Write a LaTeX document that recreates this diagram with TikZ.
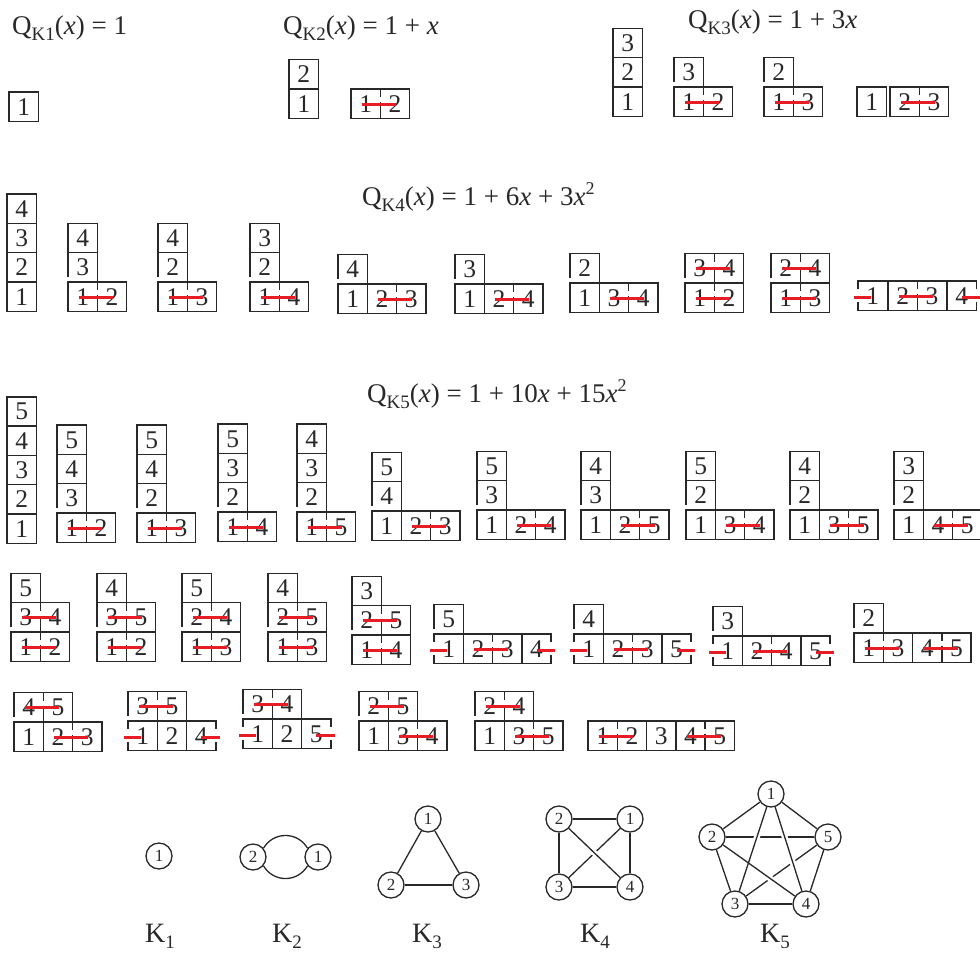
\documentclass[tikz,border=0pt]{standalone}
\usepackage{fontspec}
\setmainfont{Liberation Serif}
\definecolor{ink}{RGB}{40,40,40}
\definecolor{rd}{RGB}{232,28,36}
\newcounter{cc}
\def\csz{29.3}
\newcommand\Org[2]{\def\ox{#1}\def\oy{#2}}
\newcommand\Cell[3]{%
  \draw[cellline] ({\ox+#1*\csz},{\oy-#2*\csz}) rectangle ++(\csz,\csz);
  \stepcounter{cc}%
  \node[dig] (c\arabic{cc}) at ({\ox+(#1+0.5)*\csz},{\oy-#2*\csz+23}) {#3};}
\newcommand\Red[2]{%
  \pgfmathsetmacro\myRY{\oy-#2*\csz+15}%
  \pgfmathsetmacro\myWX{\ox+(#1+1)*\csz}%
  \fill[white] ({\myWX-1.6},{\myRY-7}) rectangle ({\myWX+1.6},{\myRY-2.2});
  \draw[redline] ({\ox+(#1+0.5)*\csz-4},\myRY) -- ({\ox+(#1+1.5)*\csz+1},\myRY);}
\newcommand\LStub[2]{%
  \pgfmathsetmacro\myRY{\oy-#2*\csz+16}%
  \pgfmathsetmacro\myWX{\ox+#1*\csz}%
  \fill[white] ({\myWX-1.6},{\myRY-8}) rectangle ({\myWX+1.6},{\myRY+5});
  \draw[redline] ({\myWX-4},\myRY) -- ({\myWX+\csz/2-2},\myRY);}
\newcommand\RStub[2]{%
  \pgfmathsetmacro\myRY{\oy-#2*\csz+16}%
  \pgfmathsetmacro\myWX{\ox+(#1+1)*\csz}%
  \fill[white] ({\myWX-1.6},{\myRY-8}) rectangle ({\myWX+1.6},{\myRY+5});
  \draw[redline] ({\myWX-\csz/2},\myRY) -- ({\myWX+4},\myRY);}
\newcommand\LGap{\fill[white] ({\ox-1.6},{\oy-5.5}) rectangle ({\ox+1.6},{\oy-0.95});}
\newcommand\sbs[1]{\raisebox{-6pt}{\fontsize{19}{19}\selectfont #1}}
\newcommand\sps[1]{\raisebox{11pt}{\fontsize{18}{18}\selectfont #1}}
\newcommand\ksub[1]{\raisebox{-6pt}{\fontsize{19}{19}\selectfont #1}}
\tikzset{
 cellline/.style={draw=ink, line width=1.5},
 dig/.style={inner sep=0pt, anchor=base, text=ink, font=\fontsize{25.5}{25.5}\selectfont},
 redline/.style={draw=rd, line width=3},
 ttl/.style={inner sep=0pt, anchor=base west, text=ink, font=\fontsize{27}{27}\selectfont},
 klab/.style={inner sep=0pt, anchor=base west, text=ink, font=\fontsize{28}{28}\selectfont},
 vtx/.style={circle, draw=ink, line width=1.3, minimum size=26pt, inner sep=0pt, fill=white, text=ink, font=\fontsize{17}{17}\selectfont},
 edge/.style={draw=ink, line width=1.3},
 gapline/.style={draw=white, line width=6, shorten >=4pt, shorten <=4pt},
}
\begin{document}
\begin{tikzpicture}[x=1pt,y=-1pt]
\useasboundingbox (0,0) rectangle (980,954);
% titles
\node[ttl] (q1) at (12,34) {Q\sbs{K1}(\textit{x}) = 1};
\node[ttl] (q2) at (283,34) {Q\sbs{K2}(\textit{x}) = 1 + \textit{x}};
\node[ttl] (q3) at (688,28) {Q\sbs{K3}(\textit{x}) = 1 + 3\textit{x}};
\node[ttl] (q4) at (362,205) {Q\sbs{K4}(\textit{x}) = 1 + 6\textit{x} + 3\textit{x}\sps{2}};
\node[ttl] (q5) at (367,402) {Q\sbs{K5}(\textit{x}) = 1 + 10\textit{x} + 15\textit{x}\sps{2}};
% K1
\Org{9}{92}\Cell{0}{0}{1}
% K2
\Org{289}{89}\Cell{0}{0}{1}\Cell{0}{1}{2}
\Org{351}{89}\Cell{0}{0}{1}\Cell{1}{0}{2}\Red{0}{0}
% K3
\Org{613}{87}\Cell{0}{0}{1}\Cell{0}{1}{2}\Cell{0}{2}{3}
\Org{674}{87}\Cell{0}{0}{1}\Cell{1}{0}{2}\Cell{0}{1}{3}\LGap\Red{0}{0}
\Org{764}{87}\Cell{0}{0}{1}\Cell{1}{0}{3}\Cell{0}{1}{2}\LGap\Red{0}{0}
\Org{857}{87}\Cell{0}{0}{1}
\Org{890}{87}\Cell{0}{0}{2}\Cell{1}{0}{3}\Red{0}{0}
% K4
\Org{7}{282}\Cell{0}{0}{1}\Cell{0}{1}{2}\Cell{0}{2}{3}\Cell{0}{3}{4}
\Org{68}{282}\Cell{0}{0}{1}\Cell{1}{0}{2}\Cell{0}{1}{3}\Cell{0}{2}{4}\LGap\Red{0}{0}
\Org{158}{282}\Cell{0}{0}{1}\Cell{1}{0}{3}\Cell{0}{1}{2}\Cell{0}{2}{4}\LGap\Red{0}{0}
\Org{250}{282}\Cell{0}{0}{1}\Cell{1}{0}{4}\Cell{0}{1}{2}\Cell{0}{2}{3}\LGap\Red{0}{0}
\Org{338}{284}\Cell{0}{0}{1}\Cell{1}{0}{2}\Cell{2}{0}{3}\Cell{0}{1}{4}\LGap\Red{1}{0}
\Org{455}{284}\Cell{0}{0}{1}\Cell{1}{0}{2}\Cell{2}{0}{4}\Cell{0}{1}{3}\LGap\Red{1}{0}
\Org{570}{283}\Cell{0}{0}{1}\Cell{1}{0}{3}\Cell{2}{0}{4}\Cell{0}{1}{2}\LGap\Red{1}{0}
\Org{685}{283}\Cell{0}{0}{1}\Cell{1}{0}{2}\Cell{0}{1}{3}\Cell{1}{1}{4}\LGap\Red{0}{0}\Red{0}{1}
\Org{771}{283}\Cell{0}{0}{1}\Cell{1}{0}{3}\Cell{0}{1}{2}\Cell{1}{1}{4}\LGap\Red{0}{0}\Red{0}{1}
\Org{858}{281}\Cell{0}{0}{1}\LStub{0}{0}
\Org{888}{281}\Cell{0}{0}{2}\Cell{1}{0}{3}\Red{0}{0}
\Org{947}{281}\Cell{0}{0}{4}\RStub{0}{0}
% K5 row 1
\Org{7}{514}\Cell{0}{0}{1}\Cell{0}{1}{2}\Cell{0}{2}{3}\Cell{0}{3}{4}\Cell{0}{4}{5}
\Org{57}{513}\Cell{0}{0}{1}\Cell{1}{0}{2}\Cell{0}{1}{3}\Cell{0}{2}{4}\Cell{0}{3}{5}\LGap\Red{0}{0}
\Org{137}{513}\Cell{0}{0}{1}\Cell{1}{0}{3}\Cell{0}{1}{2}\Cell{0}{2}{4}\Cell{0}{3}{5}\LGap\Red{0}{0}
\Org{218}{512}\Cell{0}{0}{1}\Cell{1}{0}{4}\Cell{0}{1}{2}\Cell{0}{2}{3}\Cell{0}{3}{5}\LGap\Red{0}{0}
\Org{297}{512}\Cell{0}{0}{1}\Cell{1}{0}{5}\Cell{0}{1}{2}\Cell{0}{2}{3}\Cell{0}{3}{4}\LGap\Red{0}{0}
\Org{372}{511}\Cell{0}{0}{1}\Cell{1}{0}{2}\Cell{2}{0}{3}\Cell{0}{1}{4}\Cell{0}{2}{5}\LGap\Red{1}{0}
\Org{477}{510}\Cell{0}{0}{1}\Cell{1}{0}{2}\Cell{2}{0}{4}\Cell{0}{1}{3}\Cell{0}{2}{5}\LGap\Red{1}{0}
\Org{581}{510}\Cell{0}{0}{1}\Cell{1}{0}{2}\Cell{2}{0}{5}\Cell{0}{1}{3}\Cell{0}{2}{4}\LGap\Red{1}{0}
\Org{686}{510}\Cell{0}{0}{1}\Cell{1}{0}{3}\Cell{2}{0}{4}\Cell{0}{1}{2}\Cell{0}{2}{5}\LGap\Red{1}{0}
\Org{790}{510}\Cell{0}{0}{1}\Cell{1}{0}{3}\Cell{2}{0}{5}\Cell{0}{1}{2}\Cell{0}{2}{4}\LGap\Red{1}{0}
\Org{894}{510}\Cell{0}{0}{1}\Cell{1}{0}{4}\Cell{2}{0}{5}\Cell{0}{1}{2}\Cell{0}{2}{3}\LGap\Red{1}{0}
% K5 row 2
\Org{11}{632}\Cell{0}{0}{1}\Cell{1}{0}{2}\Cell{0}{1}{3}\Cell{1}{1}{4}\Cell{0}{2}{5}\LGap\Red{0}{0}\Red{0}{1}
\Org{97}{632}\Cell{0}{0}{1}\Cell{1}{0}{2}\Cell{0}{1}{3}\Cell{1}{1}{5}\Cell{0}{2}{4}\LGap\Red{0}{0}\Red{0}{1}
\Org{182}{632}\Cell{0}{0}{1}\Cell{1}{0}{3}\Cell{0}{1}{2}\Cell{1}{1}{4}\Cell{0}{2}{5}\LGap\Red{0}{0}\Red{0}{1}
\Org{268}{632}\Cell{0}{0}{1}\Cell{1}{0}{3}\Cell{0}{1}{2}\Cell{1}{1}{5}\Cell{0}{2}{4}\LGap\Red{0}{0}\Red{0}{1}
\Org{352}{635}\Cell{0}{0}{1}\Cell{1}{0}{4}\Cell{0}{1}{2}\Cell{1}{1}{5}\Cell{0}{2}{3}\LGap\Red{0}{0}\Red{0}{1}
\Org{434}{634}\Cell{0}{0}{1}\Cell{1}{0}{2}\Cell{2}{0}{3}\Cell{3}{0}{4}\Cell{0}{1}{5}\LGap\LStub{0}{0}\Red{1}{0}\RStub{3}{0}
\Org{574}{634}\Cell{0}{0}{1}\Cell{1}{0}{2}\Cell{2}{0}{3}\Cell{3}{0}{5}\Cell{0}{1}{4}\LGap\LStub{0}{0}\Red{1}{0}\RStub{3}{0}
\Org{713}{636}\Cell{0}{0}{1}\Cell{1}{0}{2}\Cell{2}{0}{4}\Cell{3}{0}{5}\Cell{0}{1}{3}\LGap\LStub{0}{0}\Red{1}{0}\RStub{3}{0}
\Org{854}{633}\Cell{0}{0}{1}\Cell{1}{0}{3}\Cell{2}{0}{4}\Cell{3}{0}{5}\Cell{0}{1}{2}\LGap\Red{0}{0}\Red{2}{0}
% K5 row 3
\Org{14}{722}\Cell{0}{0}{1}\Cell{1}{0}{2}\Cell{2}{0}{3}\Cell{0}{1}{4}\Cell{1}{1}{5}\LGap\Red{0}{1}\Red{1}{0}
\Org{128}{721}\Cell{0}{0}{1}\Cell{1}{0}{2}\Cell{2}{0}{4}\Cell{0}{1}{3}\Cell{1}{1}{5}\LGap\Red{0}{1}\LStub{0}{0}\RStub{2}{0}
\Org{243}{719}\Cell{0}{0}{1}\Cell{1}{0}{2}\Cell{2}{0}{5}\Cell{0}{1}{3}\Cell{1}{1}{4}\LGap\Red{0}{1}\LStub{0}{0}\RStub{2}{0}
\Org{359}{721}\Cell{0}{0}{1}\Cell{1}{0}{3}\Cell{2}{0}{4}\Cell{0}{1}{2}\Cell{1}{1}{5}\LGap\Red{0}{1}\Red{1}{0}
\Org{475}{721}\Cell{0}{0}{1}\Cell{1}{0}{3}\Cell{2}{0}{5}\Cell{0}{1}{2}\Cell{1}{1}{4}\LGap\Red{0}{1}\Red{1}{0}
\Org{588}{721}\Cell{0}{0}{1}\Cell{1}{0}{2}\Cell{2}{0}{3}\Cell{3}{0}{4}\Cell{4}{0}{5}\Red{0}{0}\Red{3}{0}
% graphs
\node[vtx] (a1) at (159,856) {1};
\node[vtx] (b2) at (253,857) {2};
\node[vtx] (b1) at (318,857) {1};
\draw[edge] (b2.40) .. controls +(10,-17) and +(-10,-17) .. (b1.140);
\draw[edge] (b2.-40) .. controls +(10,17) and +(-10,17) .. (b1.-140);
\node[vtx] (c1) at (428,819) {1};
\node[vtx] (c2) at (391,885) {2};
\node[vtx] (c3) at (466,885) {3};
\draw[edge] (c1) -- (c2);
\draw[edge] (c1) -- (c3);
\draw[edge] (c2) -- (c3);
\node[vtx] (d2) at (559,819) {2};
\node[vtx] (d1) at (630,819) {1};
\node[vtx] (d3) at (559,887) {3};
\node[vtx] (d4) at (630,887) {4};
\draw[edge] (d2) -- (d1);
\draw[edge] (d2) -- (d3);
\draw[edge] (d1) -- (d4);
\draw[edge] (d3) -- (d4);
\draw[edge] (d1) -- (d3);
\draw[gapline] (d2) -- (d4);
\draw[edge] (d2) -- (d4);
\node[vtx] (e1) at (771,794) {1};
\node[vtx] (e2) at (712,837) {2};
\node[vtx] (e5) at (828,837) {5};
\node[vtx] (e3) at (735,904) {3};
\node[vtx] (e4) at (806,904) {4};
\draw[edge] (e1) -- (e2);
\draw[edge] (e1) -- (e5);
\draw[edge] (e2) -- (e3);
\draw[edge] (e3) -- (e4);
\draw[edge] (e4) -- (e5);
\draw[edge] (e2) -- (e5);
\draw[edge] (e3) -- (e5);
\draw[gapline] (e1) -- (e3);
\draw[gapline] (e1) -- (e4);
\draw[gapline] (e2) -- (e4);
\draw[edge] (e1) -- (e3);
\draw[edge] (e1) -- (e4);
\draw[edge] (e2) -- (e4);
\node[klab] (k1) at (145,942) {K\ksub{1}};
\node[klab] (k2) at (272,942) {K\ksub{2}};
\node[klab] (k3) at (412,942) {K\ksub{3}};
\node[klab] (k4) at (580,942) {K\ksub{4}};
\node[klab] (k5) at (760,942) {K\ksub{5}};
\end{tikzpicture}
\end{document}
